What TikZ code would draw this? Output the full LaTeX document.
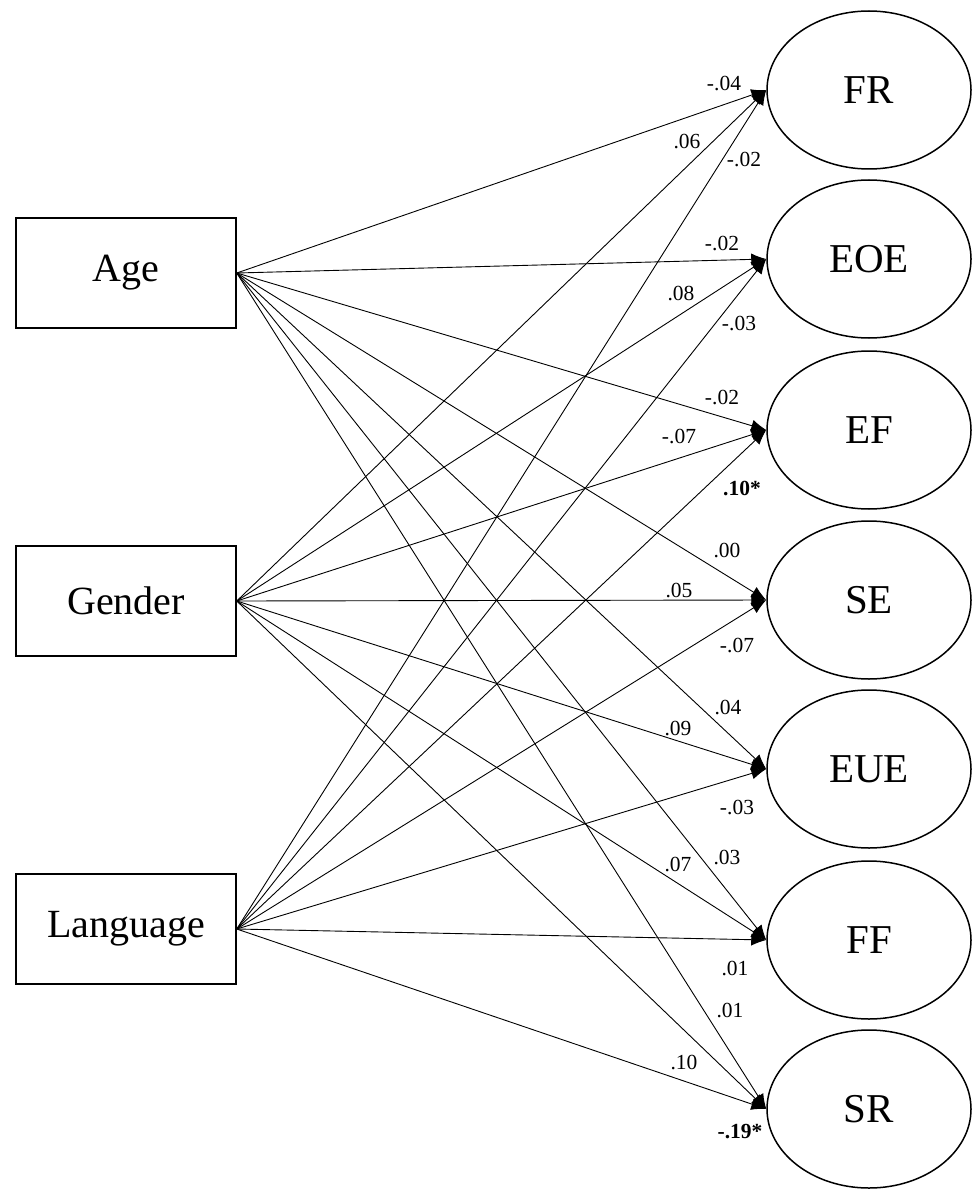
\documentclass[tikz,border=0pt]{standalone}
\usepackage{fontspec}
\setmainfont{Liberation Serif}
\usetikzlibrary{arrows.meta,shapes.geometric}
\begin{document}
\begin{tikzpicture}[x=1pt,y=-1pt,
  obsbox/.style={draw,line width=1.5pt,minimum width=220pt,minimum height=110pt,inner sep=0pt,font=\fontsize{40}{48}\selectfont},
  latell/.style={draw,ellipse,line width=1.5pt,minimum width=204pt,minimum height=158pt,inner sep=0pt,font=\fontsize{41}{49}\selectfont},
  conn/.style={line width=0.9pt,-{Latex[length=15pt,width=12pt]}},
  coef/.style={inner sep=0pt,font=\fontsize{21.5}{26}\selectfont},
  sigcoef/.style={inner sep=0pt,font=\fontsize{21.5}{26}\selectfont\bfseries}]
\useasboundingbox (0,0) rectangle (977,1190);
\fill[white] (0,0) rectangle (977,1190);
% observed variables
\node[obsbox] (age) at (126,273) {Age};
\node[obsbox] (gen) at (126,601) {Gender};
\node[obsbox] (lan) at (126,929) {Language};
% latent variables
\node[latell] (fr)  at (869,90)   {FR};
\node[latell] (eoe) at (869,259)  {EOE};
\node[latell] (ef)  at (869,430)  {EF};
\node[latell] (se)  at (869,600)  {SE};
\node[latell] (eue) at (869,769)  {EUE};
\node[latell] (ff)  at (869,940)  {FF};
\node[latell] (sr)  at (869,1109) {SR};
% paths
\foreach \s in {age,gen,lan}{
  \foreach \t in {fr,eoe,ef,se,eue,ff,sr}{
    \draw[conn] (\s.east) -- (\t.west);
  }
}
% coefficients
\node[coef] (c1) at (724,84) {-.04};
\node[coef] (c2) at (687,142) {.06};
\node[coef] (c3) at (744,160) {-.02};
\node[coef] (c4) at (722,244) {-.02};
\node[coef] (c5) at (681,294) {.08};
\node[coef] (c6) at (739,324) {-.03};
\node[coef] (c7) at (722,398) {-.02};
\node[coef] (c8) at (679,436) {-.07};
\node[sigcoef] (c9) at (742,488) {.10*};
\node[coef] (c10) at (727,550) {.00};
\node[coef] (c11) at (679,590) {.05};
\node[coef] (c12) at (737,645) {-.07};
\node[coef] (c13) at (728,707) {.04};
\node[coef] (c14) at (678,728) {.09};
\node[coef] (c15) at (737,807) {-.03};
\node[coef] (c16) at (678,864) {.07};
\node[coef] (c17) at (727,857) {.03};
\node[coef] (c18) at (735,968) {.01};
\node[coef] (c19) at (730,1010) {.01};
\node[coef] (c20) at (684,1062) {.10};
\node[sigcoef] (c21) at (740,1132) {-.19*};
\end{tikzpicture}
\end{document}
